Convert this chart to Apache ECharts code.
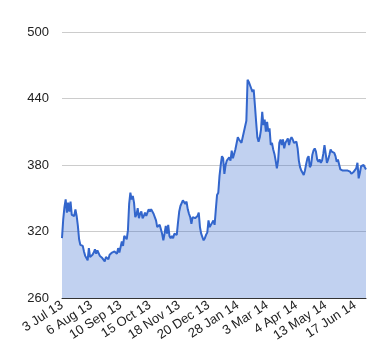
<!DOCTYPE html>
<html>
<head>
<meta charset="utf-8">
<script src="https://cdn.jsdelivr.net/npm/echarts@6/dist/echarts.min.js"></script>
<style>html,body{margin:0;padding:0;background:#fff}#c{width:380px;height:360px}</style>
</head>
<body>
<div id="c"></div>
<script>
var tickLabels = ['3 Jul 13','6 Aug 13','10 Sep 13','15 Oct 13','18 Nov 13','20 Dec 13','28 Jan 14','3 Mar 14','4 Apr 14','13 May 14','17 Jun 14'];
var labelStep = 24;
var values = [
314,331,342,349,337,346,338,347,335,334,
334,340,334,325,313,308,308,307,302,298,
296,294,305,297,297,299,301,304,300,303,
302,298,297,296,295,293,297,297,295,299,
300,301,301,302,302,300,305,301,306,311,
307,316,317,313,321,345,355,349,352,346,
333,335,341,332,336,338,332,334,337,334,
337,340,338,340,341,336,333,330,324,325,
326,325,318,312,318,325,318,326,316,314,
316,314,318,318,317,328,338,343,344,348,
348,345,347,340,336,333,327,333,333,332,
331,334,337,324,318,315,312,314,317,319,
330,324,323,328,330,326,340,353,355,370,
380,388,386,372,380,384,385,387,384,393,
386,387,394,395,405,403,403,400,401,410,
411,420,457,455,455,449,446,448,434,419,
405,401,405,412,428,416,421,410,419,410,
413,398,400,394,390,384,377,384,400,403,
398,403,395,400,402,404,398,403,405,403,
400,401,401,395,384,378,375,373,371,375,
381,386,388,378,380,389,393,395,392,385,
383,385,382,384,390,398,390,382,385,389,
394,392,392,391,388,383,385,386,376,376,
375,375,375,375,375,375,374,372,371,374,
373,377,382,368,373,379,380,380,379,376
];
var categories = values.map(function(v, i){ return 'd' + i; });
var yMin = 260, yMax = 500, yStep = 60;

var chart = echarts.init(document.getElementById('c'));
chart.setOption({
  animation: false,
  grid: {left: 62, right: 14, top: 32, bottom: 62},
  xAxis: {
    type: 'category',
    data: categories,
    boundaryGap: false,
    axisLine: {show: true, lineStyle: {color: '#333', width: 1}},
    axisTick: {show: false},
    splitLine: {show: false},
    axisLabel: {
      interval: labelStep - 1,
      rotate: 33,
      margin: 6,
      color: '#222',
      fontSize: 13,
      fontFamily: 'Liberation Sans, Arial, sans-serif',
      formatter: function(v, i){ return tickLabels[Math.round(i / labelStep)] || ''; }
    }
  },
  yAxis: {
    type: 'value',
    min: yMin, max: yMax, interval: yStep,
    axisLine: {show: false},
    axisTick: {show: false},
    splitLine: {lineStyle: {color: '#ccc', width: 1}},
    axisLabel: {margin: 13, color: '#222', fontSize: 13, fontFamily: 'Liberation Sans, Arial, sans-serif'}
  },
  series: [{
    type: 'line',
    data: values,
    showSymbol: false,
    lineStyle: {color: '#3366cc', width: 2},
    itemStyle: {color: '#3366cc'},
    areaStyle: {color: '#3366cc', opacity: 0.3}
  }]
});
</script>
</body>
</html>
